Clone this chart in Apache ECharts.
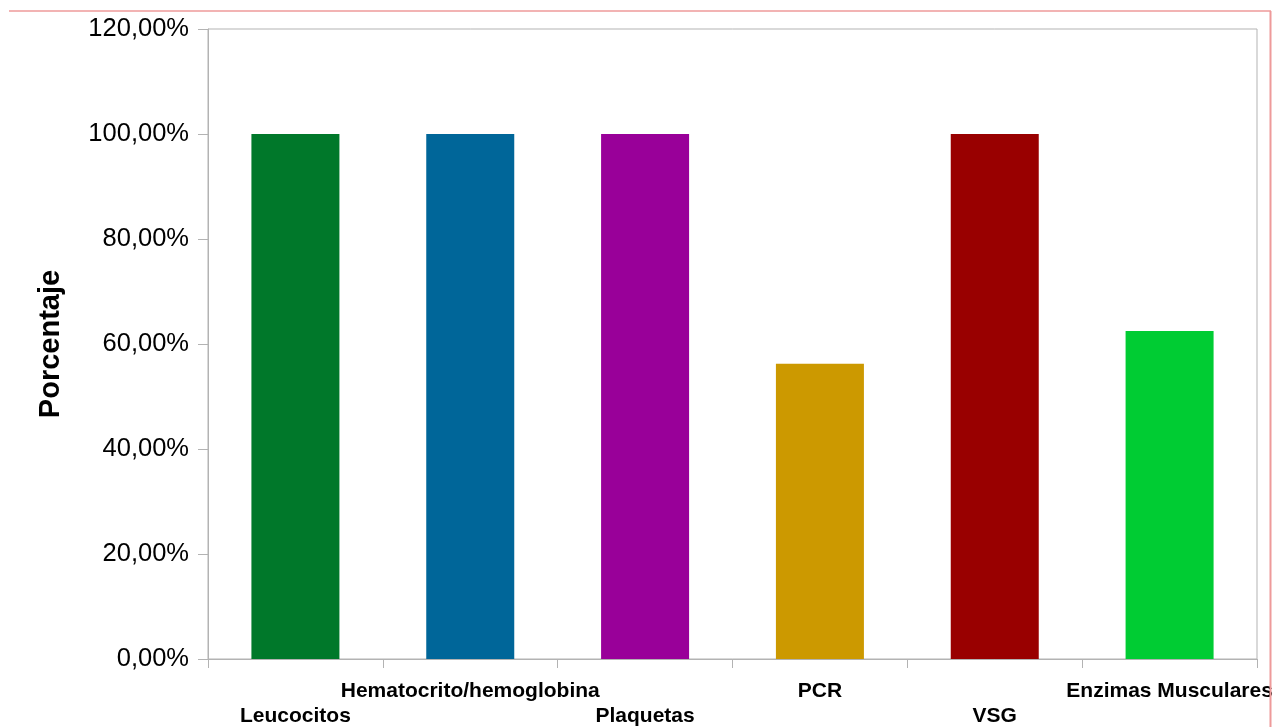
<!DOCTYPE html>
<html>
<head>
<meta charset="utf-8">
<script src="https://cdn.jsdelivr.net/npm/echarts@6/dist/echarts.min.js"></script>
<style>
  html, body { margin: 0; padding: 0; background: #ffffff; }
  #chart { width: 1273px; height: 727px; }
</style>
</head>
<body>
<div id="chart"></div>
<script>
// Laboratory parameters and the percentage of altered results for each
const categories = ['Leucocitos', 'Hematocrito/hemoglobina', 'Plaquetas', 'PCR', 'VSG', 'Enzimas Musculares'];
const percentages = [100, 100, 100, 56.25, 100, 62.5];
const barColors = ['#00782A', '#006699', '#990099', '#CC9900', '#990000', '#00CC33'];
const yTicks = { min: 0, max: 120, interval: 20 };

const chart = echarts.init(document.getElementById('chart'), null, { renderer: 'canvas' });

const option = {
  backgroundColor: '#ffffff',
  animation: false,
  grid: {
    left: 208, right: 16, top: 29, bottom: 68,
    outerBoundsMode: 'none',
    containLabel: false,
    show: true, borderColor: '#b3b3b3', borderWidth: 1, backgroundColor: 'transparent'
  },
  xAxis: {
    type: 'category',
    data: categories,
    axisLine: { show: true, lineStyle: { color: '#b3b3b3', width: 1 } },
    axisTick: { show: true, length: 9, alignWithLabel: false, lineStyle: { color: '#b3b3b3' } },
    axisLabel: {
      interval: 0,
      hideOverlap: false,
      margin: 20,
      color: '#000000',
      fontFamily: 'Liberation Sans',
      fontWeight: 'bold',
      fontSize: 21,
      lineHeight: 25,
      verticalAlign: 'top',
      // alternate labels between two rows so the long names do not collide
      formatter: function (value, index) {
        return index % 2 === 0 ? '\n' + value : value;
      }
    },
    splitLine: { show: false }
  },
  yAxis: {
    type: 'value',
    min: yTicks.min,
    max: yTicks.max,
    interval: yTicks.interval,
    name: 'Porcentaje',
    nameLocation: 'middle',
    nameRotate: 90,
    nameGap: 143,
    nameTextStyle: {
      color: '#000000',
      fontFamily: 'Liberation Sans',
      fontWeight: 'bold',
      fontSize: 29
    },
    axisLine: { show: true, lineStyle: { color: '#b3b3b3', width: 1 } },
    axisTick: { show: true, length: 10, inside: false, lineStyle: { color: '#b3b3b3' } },
    axisLabel: {
      margin: 19,
      color: '#000000',
      fontFamily: 'Liberation Sans',
      fontSize: 25.5,
      formatter: function (v) {
        return v.toFixed(2).replace('.', ',') + '%';
      }
    },
    splitLine: { show: false }
  },
  series: [{
    type: 'bar',
    data: percentages.map(function (v, i) {
      return { value: v, itemStyle: { color: barColors[i] } };
    }),
    barWidth: 88
  }],
  graphic: [
    {
      type: 'line',
      shape: { x1: 9, y1: 11, x2: 1271, y2: 11 },
      style: { stroke: '#ee9a9a', lineWidth: 1.5 },
      z: 100
    },
    {
      type: 'line',
      shape: { x1: 1270.5, y1: 11, x2: 1270.5, y2: 727 },
      style: { stroke: '#ee9a9a', lineWidth: 2 },
      z: 100
    }
  ]
};

chart.setOption(option);
</script>
</body>
</html>
